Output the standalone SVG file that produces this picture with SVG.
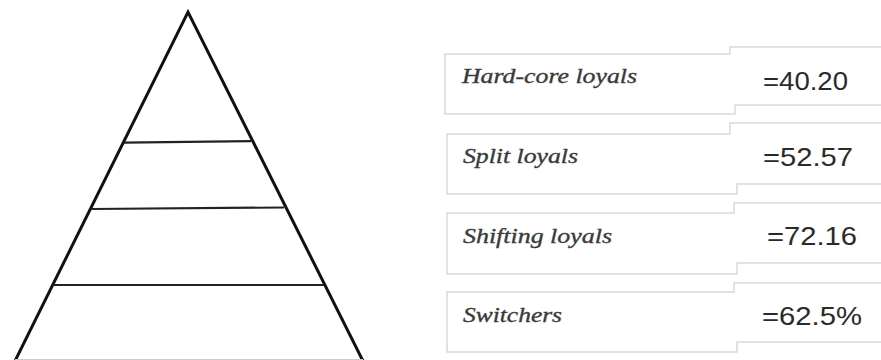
<svg xmlns="http://www.w3.org/2000/svg" width="881" height="360" viewBox="0 0 881 360">
<style>
.bg{fill:#ffffff}
.tri{fill:none;stroke:#111111;stroke-width:3;stroke-linejoin:miter}
.tier{fill:none;stroke:#222222;stroke-width:2.2}
.box{fill:#ffffff;stroke:#d9d9d9;stroke-width:1.5}
.lbl{font-family:"Liberation Serif","Times New Roman",serif;font-style:italic;font-size:21px;fill:#3a3a3a;stroke:#3a3a3a;stroke-width:0.35}
.val{font-family:"Liberation Sans",Arial,sans-serif;font-size:25px;fill:#2a2a2a}
</style>
<rect class="bg" x="0" y="0" width="881" height="360"/>
<g id="pyramid">
  <path class="tri" d="M15,361 L188,12 L363,361"/>
  <line x1="15" y1="359.5" x2="363" y2="359.5" stroke="#cccccc" stroke-width="1"/>
  <line class="tier" x1="124" y1="142.7" x2="251" y2="141.2"/>
  <line class="tier" x1="91" y1="209" x2="284" y2="207.5"/>
  <line class="tier" x1="53" y1="285" x2="324" y2="285"/>
</g>
<g id="hard-core">
  <path class="box" d="M882,47 H730 V54 H445 V114 H735 V105 H882"/>
  <text class="lbl" x="462" y="83" textLength="175" lengthAdjust="spacingAndGlyphs">Hard-core loyals</text>
  <text class="val" x="763" y="90" textLength="85" lengthAdjust="spacingAndGlyphs">=40.20</text>
</g>
<g id="split">
  <path class="box" d="M882,123 H730 V134 H447 V194 H737 V184 H882"/>
  <text class="lbl" x="463" y="163" textLength="115" lengthAdjust="spacingAndGlyphs">Split loyals</text>
  <text class="val" x="763" y="166" textLength="90" lengthAdjust="spacingAndGlyphs">=52.57</text>
</g>
<g id="shifting">
  <path class="box" d="M882,203 H734 V213 H447 V274 H737 V263 H882"/>
  <text class="lbl" x="463" y="243" textLength="149" lengthAdjust="spacingAndGlyphs">Shifting loyals</text>
  <text class="val" x="767" y="245" textLength="90" lengthAdjust="spacingAndGlyphs">=72.16</text>
</g>
<g id="switchers">
  <path class="box" d="M882,283 H734 V292 H447 V352 H737 V342 H882"/>
  <text class="lbl" x="463" y="322" textLength="99" lengthAdjust="spacingAndGlyphs">Switchers</text>
  <text class="val" x="762" y="325" textLength="100" lengthAdjust="spacingAndGlyphs">=62.5%</text>
</g>
<g id="connectors"></g>
</svg>
